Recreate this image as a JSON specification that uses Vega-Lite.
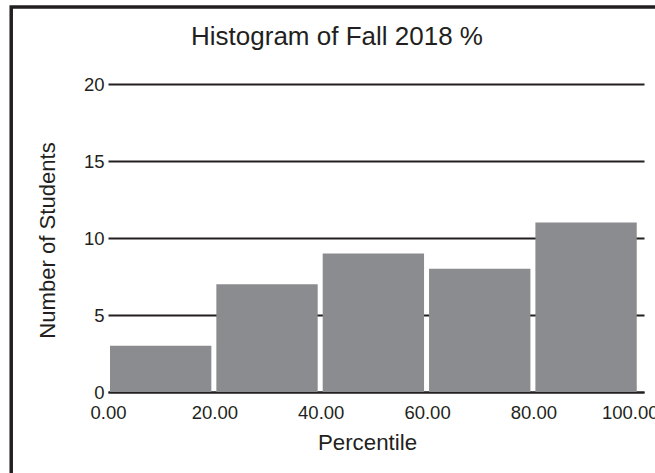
{
  "$schema": "https://vega.github.io/schema/vega-lite/v6.json",
  "width": 536,
  "height": 308,
  "autosize": {"type": "none"},
  "padding": {"left": 108, "top": 84, "right": 11, "bottom": 81},
  "background": "white",
  "config": {"view": {"stroke": null}, "font": "Liberation Sans"},
  "title": {
    "text": "Histogram of Fall 2018 %",
    "fontSize": 26,
    "fontWeight": "normal",
    "color": "#231f20",
    "anchor": "middle",
    "frame": "group",
    "dx": -39,
    "baseline": "alphabetic",
    "offset": -65.7
  },
  "layer": [
    {
      "data": {"values": [{}]},
      "mark": {"type": "rect", "fill": "white", "fillOpacity": 0, "stroke": "#231f20", "strokeWidth": 3.5, "clip": false},
      "encoding": {
        "x": {"datum": -18.2, "type": "quantitative"},
        "x2": {"datum": 130},
        "y": {"datum": 25, "type": "quantitative"},
        "y2": {"datum": -10}
      }
    },
    {
      "data": {
        "values": [
          {"start": 0, "end": 20, "count": 3},
          {"start": 20, "end": 40, "count": 7},
          {"start": 40, "end": 60, "count": 9},
          {"start": 60, "end": 80, "count": 8},
          {"start": 80, "end": 100, "count": 11}
        ]
      },
      "mark": {"type": "bar", "color": "#8b8c8f", "xOffset": 2, "x2Offset": -3, "orient": "vertical"},
      "encoding": {
        "x": {
          "field": "start",
          "type": "quantitative",
          "scale": {"domain": [0, 100.8], "nice": false, "zero": false, "padding": 0},
          "axis": {
            "title": "Percentile",
            "values": [0, 20, 40, 60, 80, 100],
            "format": ".2f",
            "domain": true,
            "domainColor": "#231f20",
            "domainWidth": 2,
            "ticks": false,
            "grid": false,
            "labelFontSize": 18.5,
            "labelColor": "#231f20",
            "labelBaseline": "alphabetic",
            "labelPadding": 26,
            "labelFlush": false,
            "labelOverlap": false,
            "labelOffset": {"condition": {"test": "datum.value == 100", "value": -10}, "value": 0},
            "titleFontSize": 22.3,
            "titleFontWeight": "normal",
            "titleColor": "#231f20",
            "titleX": 259,
            "titleY": 57.3,
            "titleBaseline": "alphabetic",
            "titleAlign": "center"
          }
        },
        "x2": {"field": "end"},
        "y": {
          "field": "count",
          "type": "quantitative",
          "scale": {"domain": [0, 20], "nice": false, "padding": 0},
          "axis": {
            "title": "Number of Students",
            "values": [0, 5, 10, 15, 20],
            "domain": false,
            "ticks": false,
            "grid": true,
            "gridColor": "#231f20",
            "gridWidth": 2,
            "gridOpacity": 1,
            "labelFontSize": 18.5,
            "labelColor": "#231f20",
            "labelPadding": 4,
            "titleFontSize": 22.1,
            "titleFontWeight": "normal",
            "titleColor": "#231f20",
            "titleX": -54,
            "titleY": 156,
            "titleAngle": -90,
            "titleAlign": "center",
            "titleBaseline": "alphabetic"
          }
        },
        "y2": {"datum": 0}
      }
    }
  ]
}
